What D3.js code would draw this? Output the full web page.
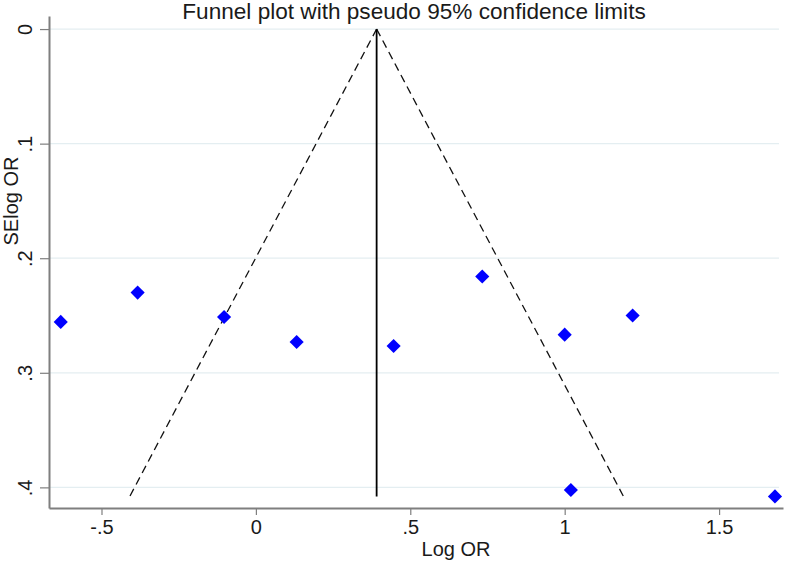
<!DOCTYPE html>
<html>
<head>
<meta charset="utf-8">
<script src="https://cdn.jsdelivr.net/npm/d3@7"></script>
<style>
  html, body { margin: 0; padding: 0; background: #fff; }
  svg { display: block; font-family: "Liberation Sans", Arial, Helvetica, sans-serif; }
</style>
</head>
<body>
<svg id="chart" width="787" height="562"></svg>
<script>
// ---- data ----
const logOR   = [-0.632, -0.383, -0.103, 0.132, 0.446, 0.733, 1.000, 1.220, 1.020, 1.681];
const seLogOR = [0.2556, 0.230, 0.2513, 0.2731, 0.2766, 0.216, 0.2667, 0.250, 0.4023, 0.4079];
const pooledLogOR = 0.391;
const maxSE = 0.408;
const xTicks = [-0.5, 0, 0.5, 1, 1.5];
const xTickLabels = ["-.5", "0", ".5", "1", "1.5"];
const yTicks = [0, 0.1, 0.2, 0.3, 0.4];
const yTickLabels = ["0", ".1", ".2", ".3", ".4"];
const titleText = "Funnel plot with pseudo 95% confidence limits";
const xTitle = "Log OR";
const yTitle = "SElog OR";

// ---- layout ----
const svg = d3.select("#chart");
const mLeft = 49, mRight = 783, mTop = 16, mBottom = 508;
const x = d3.scaleLinear().domain([-0.67, 1.707]).range([mLeft, mRight]);
const y = d3.scaleLinear().domain([-0.0114, 0.418]).range([mTop, mBottom]);
const axisColor = "#7f7f7f";
const textColor = "#1a1a1a";
const fs = 20;

// gridlines
svg.append("g").selectAll("line").data(yTicks).join("line")
  .attr("x1", mLeft).attr("x2", mRight - 4)
  .attr("y1", d => y(d)).attr("y2", d => y(d))
  .attr("stroke", "#e4eef1").attr("stroke-width", 1.2);

// x axis
const xAxis = d3.axisBottom(x).tickValues(xTicks)
  .tickFormat((d, i) => xTickLabels[i]).tickSize(7).tickSizeOuter(0).tickPadding(5);
const gx = svg.append("g").attr("transform", `translate(0,${mBottom})`).call(xAxis);
gx.select(".domain").attr("stroke", axisColor).attr("stroke-width", 2);
gx.selectAll(".tick line").attr("stroke", axisColor).attr("stroke-width", 1.2);
gx.selectAll(".tick text").attr("font-size", fs).attr("fill", textColor)
  .attr("font-family", "Liberation Sans, Arial, sans-serif");

// y axis
const yAxis = d3.axisLeft(y).tickValues(yTicks)
  .tickFormat((d, i) => yTickLabels[i]).tickSize(9).tickSizeOuter(0).tickPadding(0);
const gy = svg.append("g").attr("transform", `translate(${mLeft},0)`).call(yAxis);
gy.select(".domain").attr("stroke", axisColor).attr("stroke-width", 2);
gy.selectAll(".tick line").attr("stroke", axisColor).attr("stroke-width", 1.2);
gy.selectAll(".tick text")
  .attr("font-size", fs).attr("fill", textColor)
  .attr("font-family", "Liberation Sans, Arial, sans-serif")
  .attr("x", null).attr("dy", null)
  .attr("text-anchor", "middle")
  .attr("transform", `translate(${32 - mLeft},0) rotate(-90)`);

// funnel dashed lines
const funnel = [
  [[pooledLogOR, 0], [pooledLogOR - 1.96 * maxSE, maxSE]],
  [[pooledLogOR, 0], [pooledLogOR + 1.96 * maxSE, maxSE]]
];
const line = d3.line().x(d => x(d[0])).y(d => y(d[1]));
svg.append("g").selectAll("path").data(funnel).join("path")
  .attr("d", line).attr("fill", "none")
  .attr("stroke", "#111").attr("stroke-width", 1.3)
  .attr("stroke-dasharray", "8,5");

// pooled vertical line
svg.append("path")
  .attr("d", line([[pooledLogOR, 0], [pooledLogOR, maxSE]]))
  .attr("stroke", "#000").attr("stroke-width", 1.8).attr("fill", "none");

// points
const sym = d3.symbol().type(d3.symbolSquare).size(100);
svg.append("g").selectAll("path").data(logOR.map((v, i) => [v, seLogOR[i]])).join("path")
  .attr("d", sym)
  .attr("transform", d => `translate(${x(d[0])},${y(d[1])}) rotate(45)`)
  .attr("fill", "#0000ff");

// titles
svg.append("text").attr("x", 414).attr("y", 19)
  .attr("text-anchor", "middle").attr("font-size", 22.6).attr("fill", textColor)
  .text(titleText);
svg.append("text").attr("x", 456).attr("y", 556)
  .attr("text-anchor", "middle").attr("font-size", fs).attr("fill", textColor)
  .text(xTitle);
svg.append("text").attr("transform", "translate(18,201) rotate(-90)")
  .attr("text-anchor", "middle").attr("font-size", fs).attr("fill", textColor)
  .text(yTitle);
</script>
</body>
</html>
